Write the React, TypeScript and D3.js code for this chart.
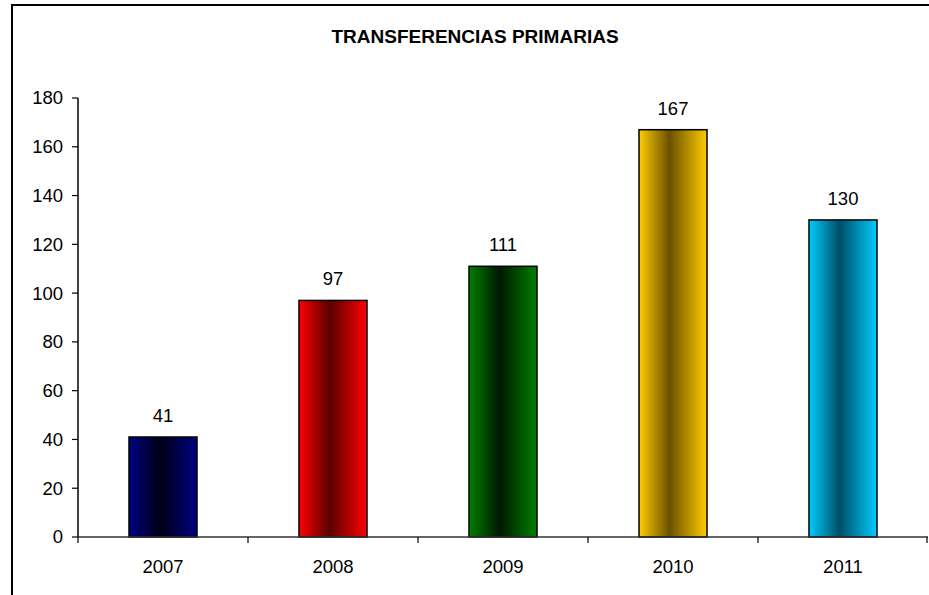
import React from "react";
import * as d3 from "d3";

const categories = ["2007", "2008", "2009", "2010", "2011"];
const values = [41, 97, 111, 167, 130];
const baseColors = ["#000080", "#FF0000", "#008000", "#FFCC00", "#00CCFF"];
const darkColors = ["#000018", "#5a0000", "#001800", "#6a5000", "#004e66"];
const yTicks = [0, 20, 40, 60, 80, 100, 120, 140, 160, 180];
const title = "TRANSFERENCIAS PRIMARIAS";

export default function App() {
  const W = 929, H = 595;
  const left = 78, right = 928, top = 98, bottom = 537;
  const x = d3.scaleBand<string>().domain(categories).range([left, right]).paddingInner(0.6).paddingOuter(0.3);
  const xOuter = d3.scaleBand<string>().domain(categories).range([left, right]);
  const y = d3.scaleLinear().domain([0, 180]).range([bottom, top]);
  const font = "Arial, 'Liberation Sans', sans-serif";
  const fs = 18.5;
  return (
    <div style={{ position: "fixed", left: 0, top: 0 }}>
      <svg width={W} height={H} style={{ display: "block" }}>
        <defs>
          {baseColors.map((c, i) => (
            <linearGradient key={i} id={`g${i}`} x1="0" x2="1" y1="0" y2="0">
              <stop offset="0%" stopColor={c} />
              <stop offset="45%" stopColor={darkColors[i]} />
              <stop offset="100%" stopColor={c} />
            </linearGradient>
          ))}
        </defs>
        <rect x={0} y={0} width={W} height={H} fill="#fff" />
        <rect x={12} y={5} width={W + 10} height={H + 10} fill="none" stroke="#000" strokeWidth={2} />
        <text x={475} y={43} textAnchor="middle" fontFamily={font} fontSize={19} fontWeight="bold" fill="#000">
          {title}
        </text>
        {categories.map((c, i) => (
          <rect
            key={c}
            x={x(c)!}
            y={y(values[i])}
            width={x.bandwidth()}
            height={y(0) - y(values[i])}
            fill={`url(#g${i})`}
            stroke="#000"
            strokeWidth={1.5}
          />
        ))}
        {categories.map((c, i) => (
          <text
            key={c}
            x={x(c)! + x.bandwidth() / 2}
            y={y(values[i]) - 15}
            textAnchor="middle"
            fontFamily={font}
            fontSize={fs}
            fill="#000"
          >
            {values[i]}
          </text>
        ))}
        <line x1={left} x2={left} y1={top} y2={bottom} stroke="#000" strokeWidth={1.5} />
        {yTicks.map((t) => (
          <g key={t}>
            <line x1={left - 6} x2={left} y1={y(t)} y2={y(t)} stroke="#000" strokeWidth={1.2} />
            <text x={left - 15} y={y(t)} dy="0.35em" textAnchor="end" fontFamily={font} fontSize={fs} fill="#000">
              {t}
            </text>
          </g>
        ))}
        <line x1={left} x2={right} y1={bottom} y2={bottom} stroke="#333" strokeWidth={1.5} />
        {[...categories.map((c) => xOuter(c)!), right - 1].map((px, i) => (
          <line key={i} x1={px} x2={px} y1={bottom} y2={bottom + 6} stroke="#000" strokeWidth={1.2} />
        ))}
        {categories.map((c) => (
          <text
            key={c}
            x={xOuter(c)! + xOuter.bandwidth() / 2}
            y={573}
            textAnchor="middle"
            fontFamily={font}
            fontSize={fs}
            fill="#000"
          >
            {c}
          </text>
        ))}
      </svg>
    </div>
  );
}
